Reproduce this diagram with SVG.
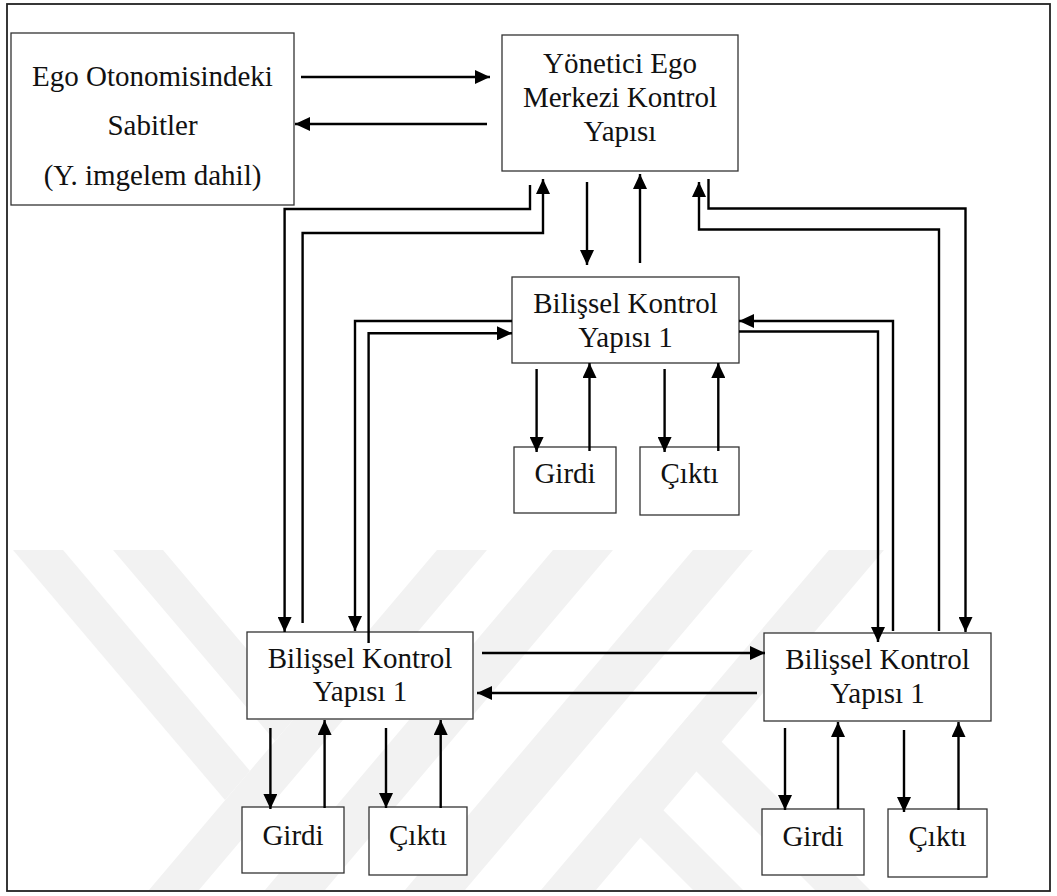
<svg xmlns="http://www.w3.org/2000/svg" width="1057" height="896" viewBox="0 0 1057 896">
<defs>
<style>
.box{fill:#fff;stroke:#333;stroke-width:1.3}
.lbl{font-family:"Liberation Serif","Times New Roman",serif;font-size:29px;fill:#111;text-anchor:middle}
.c{fill:none;stroke:#000;stroke-width:2.4}
.a{marker-end:url(#ah)}
.wm{fill:#f2f2f2}
</style>
<marker id="ah" markerUnits="userSpaceOnUse" markerWidth="15" markerHeight="14" viewBox="0 0 15 14" refX="15" refY="7" orient="auto"><path d="M0,0L15,7L0,14Z" fill="#000"/></marker>
<clipPath id="wmclip"><rect x="8" y="550" width="1041" height="340"/></clipPath>
</defs>
<rect width="1057" height="896" fill="#fff"/>
<g id="watermark" class="wm" clip-path="url(#wmclip)">
<polygon points="13,550 63,550 250,771 225,800"/>
<polygon points="113,550 163,550 300,712 275,741"/>
<polygon points="437,550 487,550 199,890 149,890"/>
<polygon points="553,550 613,550 325,890 265,890"/>
<polygon points="693,550 753,550 465,890 405,890"/>
<polygon points="829,550 884,550 596,890 541,890"/>
<polygon points="691.9,711.9 666.7,741.7 815,890 870,890"/>
<polygon points="633.6,780.6 610.7,807.7 693,890 743,890"/>
</g>
<rect id="frame" x="7" y="4" width="1043" height="887" fill="none" stroke="#222" stroke-width="1.8"/>
<g id="ego">
<rect class="box" x="11" y="33" width="283" height="172"/>
<text class="lbl" x="152.5" y="86">Ego Otonomisindeki</text>
<text class="lbl" x="152.5" y="135">Sabitler</text>
<text class="lbl" x="152.5" y="185">(Y. imgelem dahil)</text>
</g>
<g id="yonetici">
<rect class="box" x="502" y="35" width="236" height="136"/>
<text class="lbl" x="620" y="73">Yönetici Ego</text>
<text class="lbl" x="620" y="107">Merkezi Kontrol</text>
<text class="lbl" x="620" y="141">Yapısı</text>
</g>
<g id="bks-mid">
<rect class="box" x="512" y="277" width="227" height="86"/>
<text class="lbl" x="625.5" y="313">Bilişsel Kontrol</text>
<text class="lbl" x="625.5" y="347">Yapısı 1</text>
</g>
<g id="girdi-mid">
<rect class="box" x="514" y="447" width="102" height="66"/>
<text class="lbl" x="565" y="483">Girdi</text>
</g>
<g id="cikti-mid">
<rect class="box" x="640" y="447" width="99" height="68"/>
<text class="lbl" x="689.5" y="483">Çıktı</text>
</g>
<g id="bks-left">
<rect class="box" x="247" y="632" width="226" height="87"/>
<text class="lbl" x="360" y="668">Bilişsel Kontrol</text>
<text class="lbl" x="360" y="701">Yapısı 1</text>
</g>
<g id="girdi-left">
<rect class="box" x="242" y="807" width="102" height="66"/>
<text class="lbl" x="293" y="845">Girdi</text>
</g>
<g id="cikti-left">
<rect class="box" x="369" y="807" width="98" height="68"/>
<text class="lbl" x="418" y="845">Çıktı</text>
</g>
<g id="bks-right">
<rect class="box" x="764" y="633" width="227" height="88"/>
<text class="lbl" x="877.5" y="669">Bilişsel Kontrol</text>
<text class="lbl" x="877.5" y="703">Yapısı 1</text>
</g>
<g id="girdi-right">
<rect class="box" x="762" y="809" width="102" height="66"/>
<text class="lbl" x="813" y="846">Girdi</text>
</g>
<g id="cikti-right">
<rect class="box" x="888" y="809" width="99" height="68"/>
<text class="lbl" x="937.5" y="846">Çıktı</text>
</g>
<g id="connectors" class="c">
<path class="a" d="M301,77H490"/>
<path class="a" d="M487,124H295"/>
<path class="a" d="M530,185V209H284.6V632"/>
<path class="a" d="M302.6,623V233H543V179"/>
<path class="a" d="M587,182V265"/>
<path class="a" d="M640,263V174"/>
<path class="a" d="M708.5,179V208.5H965.5V632"/>
<path class="a" d="M939,631V229.5H699V182"/>
<path class="a" d="M512,321H355V631"/>
<path class="a" d="M368.6,643V333.3H512"/>
<path class="a" d="M893,631V321H739"/>
<path class="a" d="M739,331.5H878V642"/>
<path class="a" d="M482,653H765"/>
<path class="a" d="M757,693H477"/>
<path class="a" d="M536.6,369V452"/>
<path class="a" d="M589.5,451V363"/>
<path class="a" d="M664.6,369V452"/>
<path class="a" d="M718.3,451V363"/>
<path class="a" d="M270.4,728V809"/>
<path class="a" d="M324.6,808V720"/>
<path class="a" d="M386,728V808"/>
<path class="a" d="M440.7,808V720"/>
<path class="a" d="M785,728V810"/>
<path class="a" d="M838,809V722"/>
<path class="a" d="M904,730V812"/>
<path class="a" d="M958.5,810V722"/>
</g>
</svg>
